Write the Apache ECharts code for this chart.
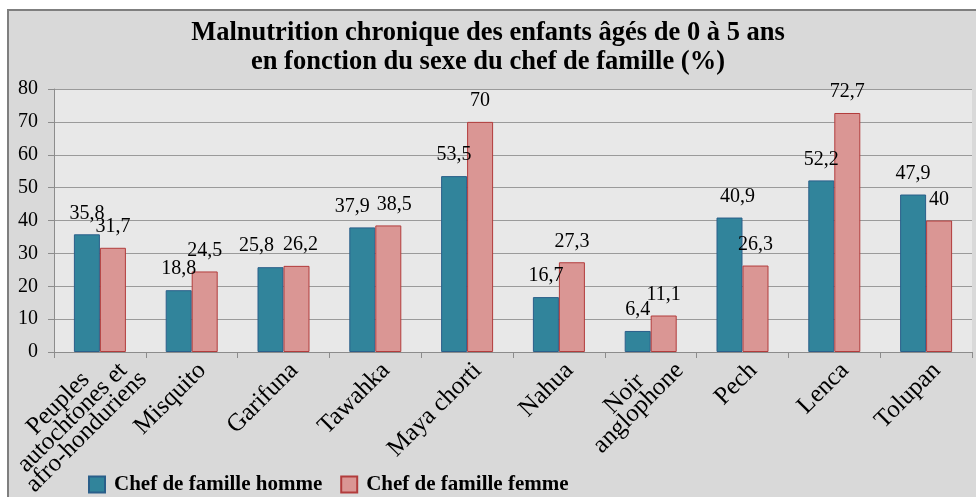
<!DOCTYPE html>
<html>
<head>
<meta charset="utf-8">
<script src="https://cdn.jsdelivr.net/npm/echarts@6/dist/echarts.min.js"></script>
<style>
html, body { margin: 0; padding: 0; background: #fff; }
#chart { width: 976px; height: 497px; }
</style>
</head>
<body>
<div id="chart"></div>
<script>
var categories = ['Peuples\nautochtones et\nafro-honduriens', 'Misquito', 'Garifuna', 'Tawahka', 'Maya chorti',
    'Nahua', 'Noir\nanglophone', 'Pech', 'Lenca', 'Tolupan'];
var hommeValues = [35.8, 18.8, 25.8, 37.9, 53.5, 16.7, 6.4, 40.9, 52.2, 47.9];
var femmeValues = [31.7, 24.5, 26.2, 38.5, 70, 27.3, 11.1, 26.3, 72.7, 40];
var seriesNames = ['Chef de famille homme', 'Chef de famille femme'];
var yTicks = { min: 0, max: 80, interval: 10 };

var serif = '"Liberation Serif", "Times New Roman", serif';

// labels nudged sideways in the original so that neighbours do not collide
var hommeLabelShift = { 2: -14, 3: -10, 7: 8 };
var femmeLabelShift = { 2: 4, 3: 6 };
// multi-line category labels sit higher in the original
var catLabelPad = { 0: [-3, -14, 0, 0], 6: [1, -10, 0, 0] };

function fmt(p) {
    return String(p.value).replace('.', ',');
}

// each line of a category label is centred, like the original
function catLabel(value) {
    return value.split('\n').map(function(line) {
        return '{c|' + line + '}';
    }).join('\n');
}

function withShift(values, shift) {
    return values.map(function(v, i) {
        if (shift[i] === undefined) {
            return v;
        }
        return { value: v, label: { offset: [shift[i], 0] } };
    });
}

var axisCategories = categories.map(function(c, i) {
    if (catLabelPad[i] === undefined) {
        return c;
    }
    return { value: c, textStyle: { verticalAlign: 'top', padding: catLabelPad[i] } };
});

var chart = echarts.init(document.getElementById('chart'));
var barLabel = {
    show: true,
    position: 'top',
    distance: 11,
    formatter: fmt,
    fontFamily: serif,
    fontSize: 20,
    color: '#000'
};
var option = {
    backgroundColor: '#ffffff',
    animation: false,
    graphic: [{
        type: 'rect',
        z: -10,
        shape: { x: 8, y: 10, width: 976, height: 497 },
        style: { fill: '#d9d9d9', stroke: '#7f7f7f', lineWidth: 2 }
    }],
    title: {
        text: 'Malnutrition chronique des enfants âgés de 0 à 5 ans\nen fonction du sexe du chef de famille (%)',
        left: 'center',
        top: 14,
        textStyle: {
            fontFamily: serif,
            fontWeight: 'bold',
            fontSize: 26.5,
            lineHeight: 29,
            color: '#000'
        }
    },
    legend: {
        data: seriesNames,
        icon: 'rect',
        left: 88,
        top: 474,
        padding: 0,
        itemWidth: 16,
        itemHeight: 16,
        itemGap: 18,
        textStyle: {
            fontFamily: serif,
            fontWeight: 'bold',
            fontSize: 21,
            padding: [0, 0, 0, 4],
            color: '#000'
        }
    },
    grid: {
        left: 54,
        right: 4,
        top: 89,
        bottom: 145,
        outerBoundsMode: 'none',
        containLabel: false,
        show: true,
        backgroundColor: '#e8e8e8',
        borderWidth: 0
    },
    xAxis: {
        type: 'category',
        data: axisCategories,
        axisLine: { lineStyle: { color: '#8c8c8c', width: 1 } },
        axisTick: { show: true, length: 6, lineStyle: { color: '#8c8c8c' } },
        axisLabel: {
            rotate: 45,
            interval: 0,
            margin: 0,
            verticalAlign: 'top',
            padding: [8, 3, 0, 0],
            formatter: catLabel,
            rich: {
                c: {
                    align: 'center',
                    fontFamily: serif,
                    fontSize: 25,
                    lineHeight: 20,
                    color: '#000'
                }
            }
        }
    },
    yAxis: {
        type: 'value',
        min: yTicks.min,
        max: yTicks.max,
        interval: yTicks.interval,
        axisLine: { show: true, lineStyle: { color: '#8c8c8c' } },
        axisTick: { show: true, length: 6, lineStyle: { color: '#8c8c8c' } },
        axisLabel: {
            margin: 16,
            fontFamily: serif,
            fontSize: 20,
            color: '#000'
        },
        splitLine: { lineStyle: { color: '#9a9a9a', width: 1 } }
    },
    series: [{
        name: seriesNames[0],
        type: 'bar',
        data: withShift(hommeValues, hommeLabelShift),
        barWidth: 26,
        barGap: '0%',
        itemStyle: { color: '#31849b', borderColor: '#2a5f8a', borderWidth: 1 },
        label: barLabel
    }, {
        name: seriesNames[1],
        type: 'bar',
        data: withShift(femmeValues, femmeLabelShift),
        barWidth: 26,
        barGap: '0%',
        itemStyle: { color: '#da9694', borderColor: '#b23c3c', borderWidth: 1 },
        label: barLabel
    }]
};
chart.setOption(option);
</script>
</body>
</html>
